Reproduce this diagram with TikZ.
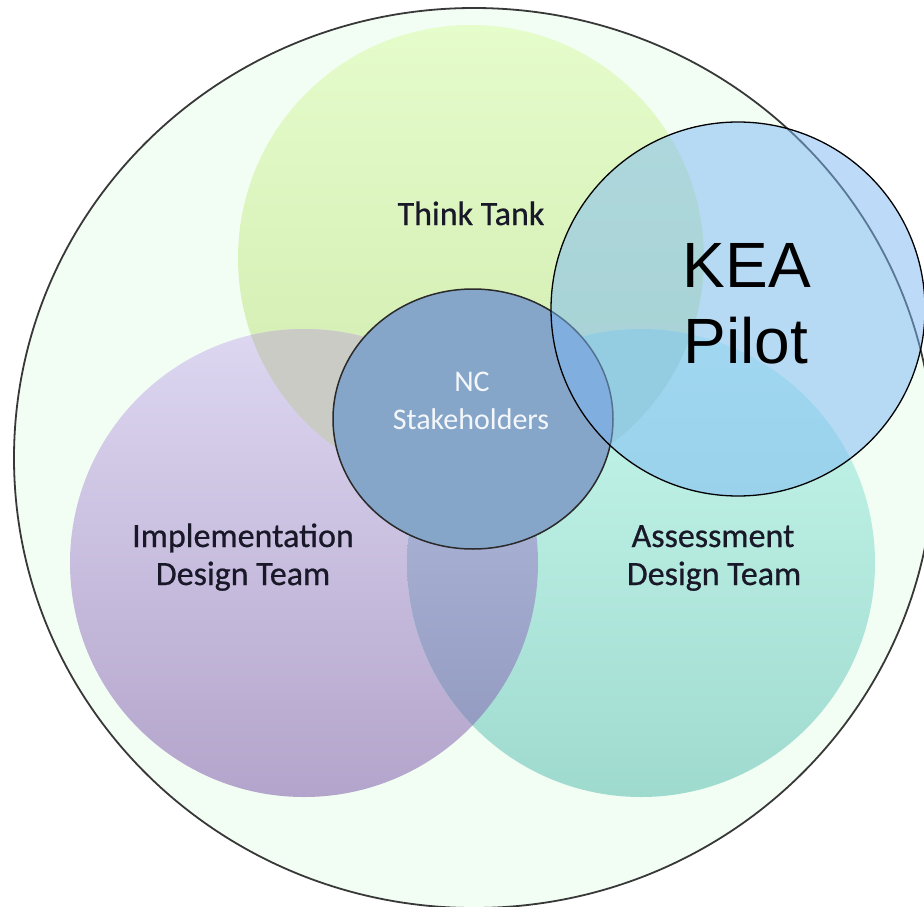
\documentclass[tikz,border=0pt]{standalone}
\usepackage{fontspec}
\setmainfont{Carlito}
\newfontfamily\lblfont[FakeBold=0.6]{Carlito}
\newfontfamily\keafont{Liberation Sans}
\definecolor{outerfill}{HTML}{F2FEF4}
\definecolor{outerline}{HTML}{383838}
\definecolor{ttTop}{HTML}{E5FCCB}
\definecolor{ttBot}{HTML}{CFEAAD}
\definecolor{imTop}{HTML}{DDD7F1}
\definecolor{imBot}{HTML}{B3A4CB}
\definecolor{asTop}{HTML}{C8F8EC}
\definecolor{asBot}{HTML}{9FDACF}
\definecolor{tiFill}{HTML}{CACBC5}
\definecolor{iaTop}{HTML}{BAC3E1}
\definecolor{iaBot}{HTML}{8D95BD}
\definecolor{taFill}{HTML}{ADE3CF}
\definecolor{ncFill}{HTML}{85A6C9}
\definecolor{ncLine}{HTML}{2A2A2A}
\definecolor{keaFill}{HTML}{7CB8F5}
\definecolor{labelText}{HTML}{181828}
\definecolor{ncText}{HTML}{F4F6FA}
\tikzset{
  lbl/.style={font=\lblfont\fontsize{34}{38}\selectfont, text=labelText, anchor=base, inner sep=0pt},
  nclbl/.style={font=\fontsize{30}{36}\selectfont, text=ncText, anchor=base, inner sep=0pt},
  kealbl/.style={font=\keafont\fontsize{64}{76}\selectfont, text=black, anchor=base, inner sep=0pt}
}
\begin{document}
\begin{tikzpicture}[x=1pt,y=-1pt]
\clip (0,0) rectangle (924,907);
\fill[white] (0,0) rectangle (924,907);
% outer circle
\fill[outerfill] (474,458) ellipse [x radius=460, y radius=450];
% three team circles
\shade[top color=ttTop, bottom color=ttBot] (471,258) circle [radius=233];
\shade[top color=imTop, bottom color=imBot] (304,563) circle [radius=234];
\shade[top color=asTop, bottom color=asBot] (641,563) circle [radius=234];
% overlaps
\begin{scope}
  \clip (471,258) circle [radius=233];
  \fill[tiFill] (304,563) circle [radius=234];
\end{scope}
\begin{scope}
  \clip (304,563) circle [radius=234];
  \shade[top color=iaTop, bottom color=iaBot] (641,563) circle [radius=234];
\end{scope}
\begin{scope}
  \clip (471,258) circle [radius=233];
  \fill[taFill] (641,563) circle [radius=234];
\end{scope}
% NC stakeholders
\filldraw[fill=ncFill, draw=ncLine, line width=1.5pt] (473,419) ellipse [x radius=140, y radius=130];
% outer border
\draw[outerline, line width=1.8pt] (474,458) ellipse [x radius=460, y radius=450];
% KEA pilot
\filldraw[fill=keaFill, fill opacity=0.5, draw=black, line width=1.3pt] (738,309) circle [radius=187];
% labels
\node[lbl] (tt) at (471,225) {Think Tank};
\node[lbl] (im1) at (243,547) {Implementation};
\node[lbl] (im2) at (243,585) {Design Team};
\node[lbl] (as1) at (713,547) {Assessment};
\node[lbl] (as2) at (714,585) {Design Team};
\node[nclbl] (nc1) at (472,391) {NC};
\node[nclbl] (nc2) at (471,429) {Stakeholders};
\node[kealbl] (kea1) at (747,287) {KEA};
\node[kealbl] (kea2) at (746,363) {Pilot};
\end{tikzpicture}
\end{document}
